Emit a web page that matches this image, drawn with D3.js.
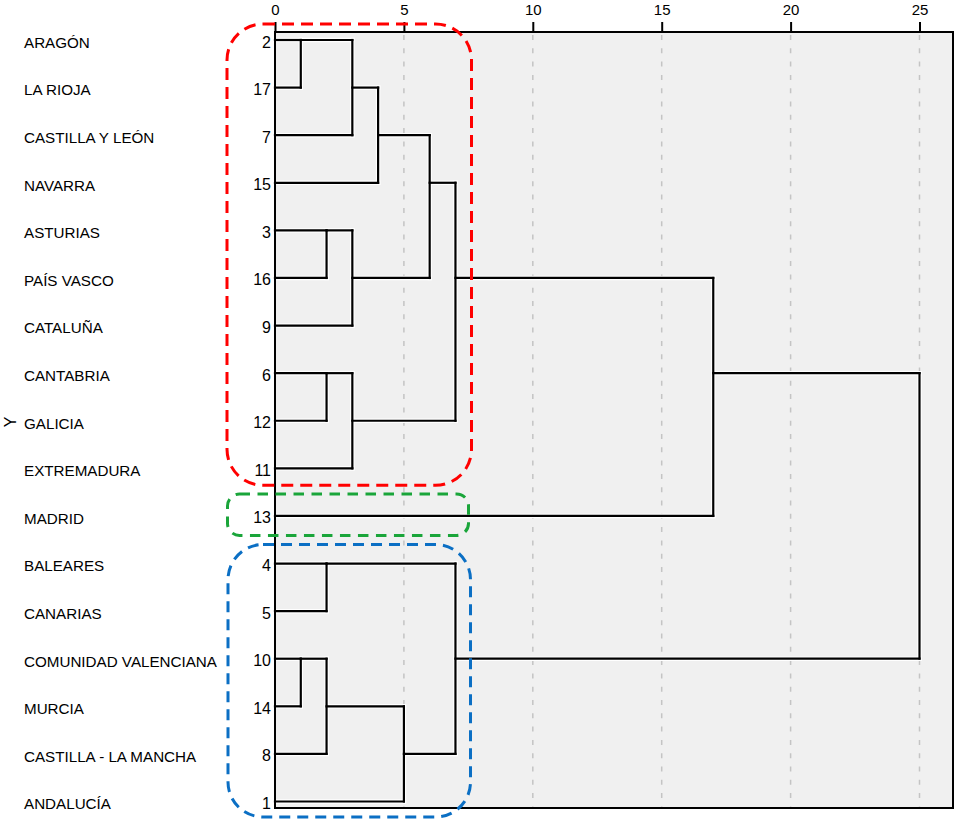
<!DOCTYPE html>
<html>
<head>
<meta charset="utf-8">
<script src="https://cdn.jsdelivr.net/npm/d3@7"></script>
<style>
  html, body { margin: 0; padding: 0; background: #ffffff; }
  svg { display: block; font-family: "Liberation Sans", Arial, sans-serif; }
</style>
</head>
<body>
<svg id="chart" width="957" height="822"></svg>
<script>
// ---- data ----
const leafLabels = ["ARAGÓN", "LA RIOJA", "CASTILLA Y LEÓN", "NAVARRA", "ASTURIAS", "PAÍS VASCO",
  "CATALUÑA", "CANTABRIA", "GALICIA", "EXTREMADURA", "MADRID", "BALEARES", "CANARIAS",
  "COMUNIDAD VALENCIANA", "MURCIA", "CASTILLA - LA MANCHA", "ANDALUCÍA"];
const leafIds = [2, 17, 7, 15, 3, 16, 9, 6, 12, 11, 13, 4, 5, 10, 14, 8, 1];
// agglomeration schedule (cluster referenced by a member case id), rescaled distance
const mergeA = [2, 10, 3, 6, 4, 10, 2, 3, 6, 2, 10, 2, 2, 4, 2, 2];
const mergeB = [17, 14, 16, 12, 5, 8, 7, 9, 11, 15, 1, 3, 6, 10, 13, 4];
const mergeHeight = [1, 1, 2, 2, 2, 2, 3, 3, 3, 4, 5, 6, 7, 7, 17, 25];
const tickValues = [0, 5, 10, 15, 20, 25];
const axisTitle = "Y";
// cluster highlight groups (first and last leaf covered)
const groupFirst = [2, 13, 4];
const groupLast = [11, 13, 1];
const groupColors = ["#ff0000", "#1aa53a", "#0b6fc4"];

// ---- layout ----
const svg = d3.select("#chart");
const plotLeft = 275, plotRight = 953, plotTop = 32, plotBottom = 808;

const x = d3.scaleLinear().domain([0, 25]).range([plotLeft, 919.5]);
const y = d3.scalePoint().domain(leafIds).range([40, 801.5]);

// background
svg.append("rect")
  .attr("x", plotLeft).attr("y", plotTop)
  .attr("width", plotRight - plotLeft).attr("height", plotBottom - plotTop)
  .attr("fill", "#f0f0f0");

// grid lines
svg.append("g").selectAll("line")
  .data(tickValues.filter(d => d > 0))
  .join("line")
  .attr("x1", d => x(d)).attr("x2", d => x(d))
  .attr("y1", plotTop + 3).attr("y2", plotBottom)
  .attr("stroke", "#c4c4c4").attr("stroke-width", 1.5)
  .attr("stroke-dasharray", "5,8.3");

// dendrogram layout
const state = new Map();
leafIds.forEach((id, i) => state.set(id, { row: i, h: 0 }));
const segs = [];
mergeA.forEach((a, k) => {
  const b = mergeB[k], h = mergeHeight[k];
  const A = state.get(a), B = state.get(b);
  segs.push({ x1: A.h, x2: h, r1: A.row, r2: A.row });
  segs.push({ x1: B.h, x2: h, r1: B.row, r2: B.row });
  segs.push({ x1: h, x2: h, r1: A.row, r2: B.row });
  const node = { row: Math.floor((A.row + B.row) / 2), h: h };
  state.set(a, node);
  state.set(b, node);
});
const rowY = r => y(leafIds[r]);

const gLinks = svg.append("g");
const drawSegs = (stroke, width) => gLinks.append("g").selectAll("line")
  .data(segs).join("line")
  .attr("x1", d => x(d.x1)).attr("x2", d => x(d.x2))
  .attr("y1", d => rowY(d.r1)).attr("y2", d => rowY(d.r2))
  .attr("stroke", stroke).attr("stroke-width", width)
  .attr("stroke-linecap", "square");
drawSegs("#ffffff", 4.5);
drawSegs("#000000", 2.2);

// frame
svg.append("rect")
  .attr("x", plotLeft).attr("y", plotTop)
  .attr("width", plotRight - plotLeft).attr("height", plotBottom - plotTop)
  .attr("fill", "none").attr("stroke", "#000").attr("stroke-width", 2);

// top axis
const axis = d3.axisTop(x).tickValues(tickValues).tickSize(10).tickPadding(3);
const gAxis = svg.append("g").attr("transform", `translate(0,${plotTop})`).call(axis);
gAxis.select(".domain").remove();
gAxis.selectAll(".tick line").attr("stroke", "#000").attr("stroke-width", 2);
gAxis.selectAll(".tick text")
  .attr("font-size", 15).attr("fill", "#000")
  .attr("font-family", "'Liberation Sans', Arial, sans-serif")
  .attr("y", -17).attr("dy", 0);

// leaf numbers
svg.append("g").selectAll("text")
  .data(leafIds).join("text")
  .attr("x", 271).attr("y", d => y(d) + 7.5)
  .attr("text-anchor", "end")
  .attr("font-size", 16).attr("fill", "#000")
  .text(d => d);

// leaf labels
svg.append("g").selectAll("text")
  .data(leafIds).join("text")
  .attr("x", 24).attr("y", d => y(d) + 7.8)
  .attr("font-size", 15.2).attr("fill", "#000")
  .text((d, i) => leafLabels[i]);

// axis title
svg.append("text")
  .attr("transform", "translate(10.5,422) rotate(-90)")
  .attr("text-anchor", "middle").attr("dy", "0.36em")
  .attr("font-size", 16).attr("fill", "#000")
  .text(axisTitle);

// highlight boxes
const boxes = [
  { x0: 227, x1: 471.5, pad0: 16, pad1: 17, rx: 36, dash: "12,7" },
  { x0: 227.5, x1: 468.5, pad0: 22, pad1: 19.5, rx: 12, dash: "10.5,7.5" },
  { x0: 228, x1: 470.5, pad0: 19, pad1: 15.5, rx: 35, dash: "11,7" }
];
svg.append("g").selectAll("rect")
  .data(boxes).join("rect")
  .attr("x", d => d.x0)
  .attr("y", (d, i) => y(groupFirst[i]) - d.pad0)
  .attr("width", d => d.x1 - d.x0)
  .attr("height", (d, i) => y(groupLast[i]) + d.pad1 - (y(groupFirst[i]) - d.pad0))
  .attr("rx", d => d.rx).attr("ry", d => d.rx)
  .attr("fill", "none")
  .attr("stroke", (d, i) => groupColors[i])
  .attr("stroke-width", 3)
  .attr("stroke-dasharray", d => d.dash);
</script>
</body>
</html>
